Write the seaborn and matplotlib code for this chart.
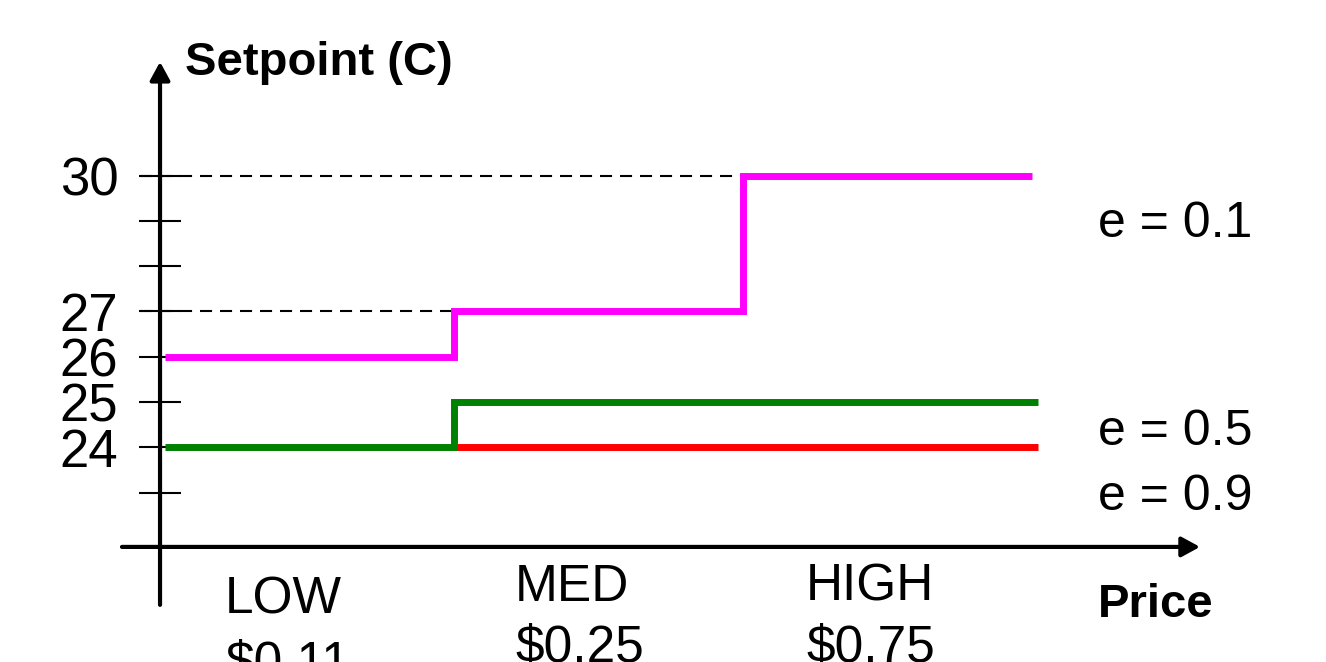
import numpy as np
import pandas as pd
import matplotlib
matplotlib.use('Agg')
from matplotlib import pyplot as plt
import seaborn as sns

# price levels along the x axis
levels = ['LOW', 'MED', 'HIGH']
prices = ['$0.11', '$0.25', '$0.75']

# step boundaries (price level index) and setpoints for each e
e01_x = [0, 1, 2, 3]
e01_y = [26, 27, 30, 30]
e05_x = [0, 1, 3.02]
e05_y = [24, 25, 25]
e09_x = [1, 3.02]
e09_y = [24, 24]

y_ticks = [23, 24, 25, 26, 27, 28, 29, 30]
y_ticklabels = ['', '24', '25', '26', '27', '', '', '30']
guide_levels = [30, 27]
guide_ends = [2, 1]
e_labels = ['e = 0.1', 'e = 0.5', 'e = 0.9']

sns.set_style('white')
plt.rcParams['font.family'] = ['Liberation Sans', 'DejaVu Sans']
plt.rcParams['text.color'] = 'black'

rows = []
for name, xs, ys in [('e = 0.9', e09_x, e09_y), ('e = 0.5', e05_x, e05_y), ('e = 0.1', e01_x, e01_y)]:
    for x, y in zip(xs, ys):
        rows.append({'e': name, 'level': x, 'setpoint': y})
df = pd.DataFrame(rows)

fig = plt.figure(figsize=(13.26, 6.62), dpi=100)
ax = fig.add_axes([0, 0, 1, 1])

sns.lineplot(data=df, x='level', y='setpoint', hue='e',
             hue_order=['e = 0.9', 'e = 0.5', 'e = 0.1'],
             palette={'e = 0.1': '#ff00ff', 'e = 0.5': '#008000', 'e = 0.9': '#ff0000'},
             drawstyle='steps-post', linewidth=5, estimator=None, sort=False,
             legend=False, ax=ax, solid_capstyle='butt', solid_joinstyle='miter')

ax.hlines(guide_levels, xmin=-0.0865, xmax=guide_ends, colors='black',
          linestyles=(0, (5.8, 3.8)), linewidth=1.5, zorder=1)

ax.set_xlim(-0.571, 4.017)
ax.set_ylim(19.259, 33.876)

for s in ax.spines.values():
    s.set_visible(False)
ax.spines['left'].set_position(('data', -0.0173))
ax.set_xticks([])
ax.set_yticks(y_ticks)
ax.set_yticklabels(y_ticklabels)
ax.tick_params(axis='y', left=True, direction='inout', length=30, width=1.5,
               labelsize=38, pad=15, colors='black', labelcolor='black')
ax.set_xlabel('')
ax.set_ylabel('')

# axis arrows
arrow = dict(arrowstyle='-|>,head_length=0.55,head_width=0.3', lw=3, color='black',
             shrinkA=0, shrinkB=0, mutation_scale=20)
ax.annotate('', xy=(-0.0173, 32.51), xytext=(-0.0173, 20.52), arrowprops=arrow)
ax.annotate('', xy=(3.581, 21.80), xytext=(-0.149, 21.80), arrowprops=arrow)

ax.text(0.069, 32.22, 'Setpoint (C)', fontsize=34, fontweight='bold', va='baseline', color='black')
ax.text(3.228, 20.25, 'Price', fontsize=34, fontweight='bold', va='baseline', color='black')

for lab, yb in zip(e_labels, [28.64, 24.05, 22.62]):
    ax.text(3.228, yb, lab, fontsize=36, va='baseline', color='black')

name_x = [0.2076, 1.211, 2.218]
name_y = [20.34, 20.61, 20.61]
price_y = [18.91, 19.26, 19.26]
for i in range(len(levels)):
    ax.text(name_x[i], name_y[i], levels[i], fontsize=37, va='baseline', color='black', parse_math=False)
    ax.text(name_x[i], price_y[i], prices[i], fontsize=37, va='baseline', color='black', parse_math=False)

fig.savefig('out.png', dpi=100)
